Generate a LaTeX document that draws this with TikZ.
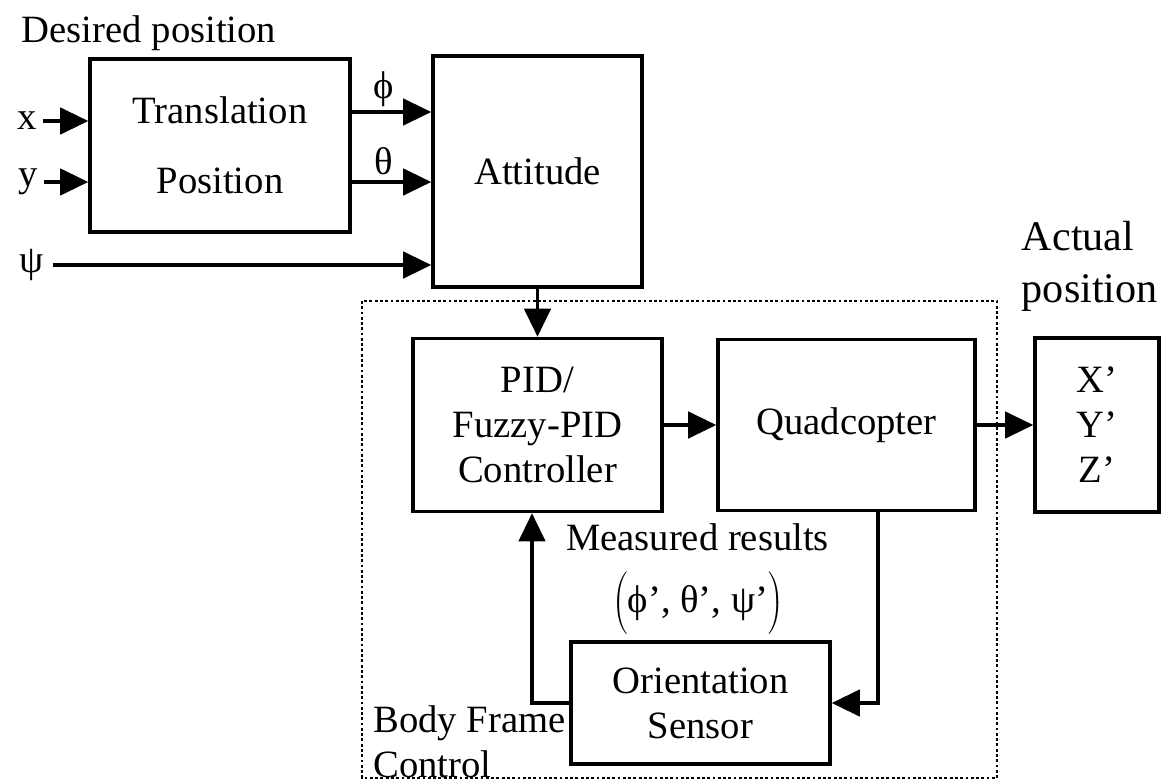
\documentclass[tikz,border=0pt]{standalone}
\usepackage{fontspec}
\setmainfont{Liberation Serif}
\usetikzlibrary{arrows.meta}

\begin{document}
\begin{tikzpicture}[x=0.02cm, y=-0.02cm,
    every node/.style={font=\fontsize{22}{25.6}\selectfont},
    blk/.style={draw, line width=2pt, align=center, inner sep=0pt},
    arr/.style={line width=2pt, -{Triangle[length=16pt,width=15pt]}},
    lbl/.style={inner sep=2pt, align=left},
    grp/.style={line width=1.6pt, dash pattern=on 1.6pt off 1.4pt}]
    \useasboundingbox (0,0) rectangle (1162,781);
    % рамка
    \draw[grp] (362,301) rectangle (997,778);

    % блоки
    \node[blk, minimum width=5.2cm, minimum height=3.46cm] (tp) at (220,145.5) {Translation\\[14pt]Position};
    \node[blk, minimum width=4.18cm, minimum height=4.62cm] (att) at (537.5,171.5) {Attitude};
    \node[blk, minimum width=4.98cm, minimum height=3.46cm] (pid) at (537.5,425) {PID/\\Fuzzy-PID\\Controller};
    \node[blk, minimum width=5.14cm, minimum height=3.42cm] (quad) at (846.5,425) {Quadcopter};
    \node[blk, minimum width=2.48cm, minimum height=3.48cm] (xyz) at (1097,425) {X’\\Y’\\Z’};
    \node[blk, minimum width=5.18cm, minimum height=2.44cm] (sens) at (700.5,703) {Orientation\\Sensor};

    % подписи
    \node[lbl, anchor=west] (des) at (18,33) {Desired position};
    \node[lbl, inner xsep=3.4pt] (xin) at (27,121) {x};
    \node[lbl, inner xsep=3.4pt] (yin) at (28,182) {y};
    \node[lbl, inner xsep=5pt] (psiin) at (32,265) {ψ};
    \node[lbl, anchor=west, font=\fontsize{24}{29.6}\selectfont] (act) at (1018,266) {Actual\\position};
    \node[inner sep=0pt] (meas) at (697.5,537) {Measured results};
    \node[inner sep=0pt] (ang) at (698,603) {$\left(\rule[-11pt]{0pt}{34pt}\mbox{ϕ’, θ’, ψ’}\right)$};
    \node[lbl, anchor=north west] (body) at (369.5,702) {Body Frame\\Control};

    % стрелки
    \draw[arr] (xin) -- (xin -| tp.west);
    \draw[arr] (yin) -- (yin -| tp.west);
    \draw[arr] (psiin) -- (psiin -| att.west);
    \draw[arr] (tp.east |- 0,112) -- (att.west |- 0,112) node[pos=0.4, above, inner sep=2pt] (phil) {ϕ};
    \draw[arr] (tp.east |- 0,182) -- (att.west |- 0,182) node[pos=0.4, above, inner sep=3pt] (thl) {θ};
    \draw[arr] (att) -- (pid);
    \draw[arr] (pid) -- (quad);
    \draw[arr] (quad) -- (xyz);
    \draw[arr] (quad.south -| 878,0) |- (sens.east);
    \draw[arr] (sens.west) -| (pid.south -| 532,0);
\end{tikzpicture}
\end{document}
